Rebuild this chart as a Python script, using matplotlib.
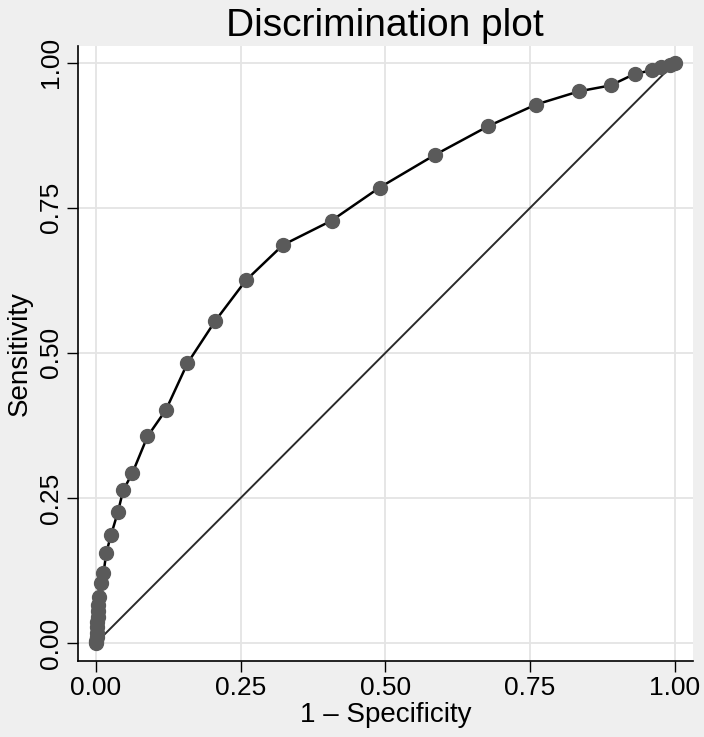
import matplotlib
matplotlib.use("Agg")
import matplotlib.pyplot as plt
import numpy as np

# ROC points (1 - specificity, sensitivity)
fpr = [0.000, 0.000, 0.001, 0.001, 0.002, 0.002, 0.003, 0.003, 0.004, 0.005,
       0.008, 0.013, 0.018, 0.026, 0.038, 0.047, 0.063, 0.089, 0.121, 0.158,
       0.206, 0.259, 0.323, 0.407, 0.490, 0.585, 0.678, 0.760, 0.835, 0.889,
       0.931, 0.960, 0.977, 0.991, 1.000]
tpr = [0.000, 0.004, 0.010, 0.018, 0.028, 0.036, 0.045, 0.055, 0.066, 0.080,
       0.103, 0.120, 0.156, 0.186, 0.226, 0.263, 0.293, 0.356, 0.402, 0.482,
       0.555, 0.625, 0.686, 0.728, 0.785, 0.841, 0.891, 0.928, 0.951, 0.961,
       0.981, 0.987, 0.993, 0.997, 1.000]

ticks = [0.0, 0.25, 0.5, 0.75, 1.0]
tick_labels = ["0.00", "0.25", "0.50", "0.75", "1.00"]

plt.rcParams["font.family"] = ["Liberation Sans", "DejaVu Sans"]

bg = "#efefef"
fig = plt.figure(figsize=(7.04, 7.37), dpi=100, facecolor=bg)
ax = fig.add_axes([0.1108, 0.1031, 0.8732, 0.8345])
ax.set_facecolor("white")

ax.plot([0, 1], [0, 1], color="#2a2a2a", linewidth=1.4, zorder=2)
ax.plot(fpr, tpr, color="black", linewidth=1.8, marker="o", markersize=10,
        markerfacecolor="#5a5a5a", markeredgecolor="#5a5a5a", zorder=3)

ax.set_xlim(-0.031, 1.031)
ax.set_ylim(-0.031, 1.029)
ax.set_xticks(ticks)
ax.set_xticklabels(tick_labels)
ax.set_yticks(ticks)
ax.set_yticklabels(tick_labels, rotation=90, va="center")

ax.grid(True, color="#e4e4e4", linewidth=1.3)
ax.set_axisbelow(True)

for side in ["top", "right"]:
    ax.spines[side].set_visible(False)
for side in ["left", "bottom"]:
    ax.spines[side].set_color("black")
    ax.spines[side].set_linewidth(1.2)

ax.tick_params(axis="both", direction="out", length=8, width=1.0, color="black",
               labelsize=19, pad=3)

ax.set_xlabel("1 \u2013 Specificity", fontsize=20, labelpad=1)
ax.set_ylabel("Sensitivity", fontsize=20, labelpad=4)
ax.set_title("Discrimination plot", fontsize=28, pad=7)

fig.savefig("out.png", dpi=100, facecolor=bg)
